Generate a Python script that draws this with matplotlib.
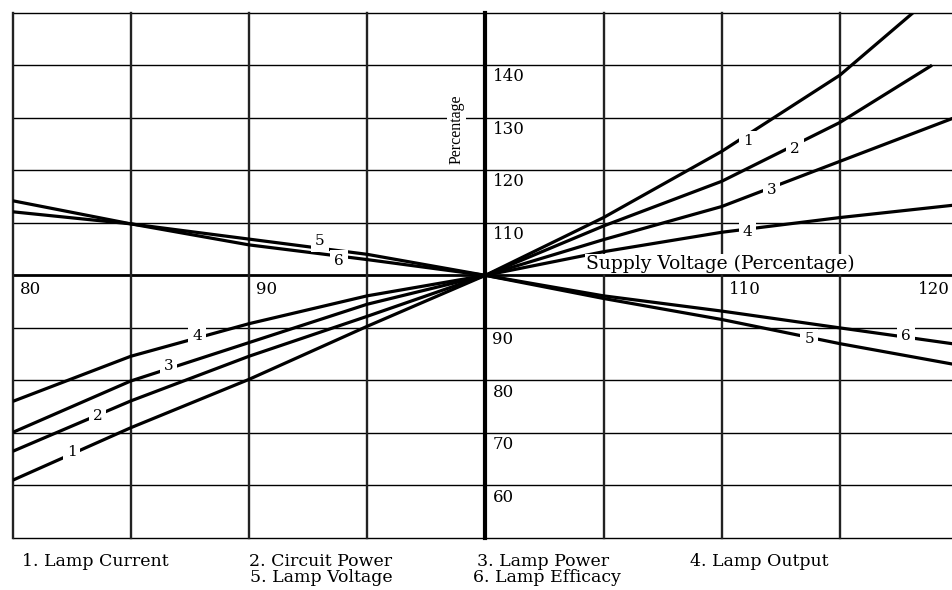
import matplotlib
matplotlib.use("Agg")
import matplotlib.pyplot as plt

volt = [80, 85, 90, 95, 100, 105, 110, 115]

# each curve: y values at volt, plus its end point on the right
lamp_current = [61.0, 71.0, 80.2, 90.3, 100, 111.0, 123.6, 138.1, 150.0]
circuit_power = [66.5, 76.1, 84.6, 92.2, 100, 109.4, 117.9, 129.1, 140.0]
lamp_power = [70.1, 79.9, 87.2, 94.5, 100, 106.8, 113.1, 121.7, 130.1]
lamp_output = [76.0, 84.6, 90.8, 96.1, 100, 104.5, 108.2, 111.0, 113.4]
lamp_voltage = [112.1, 109.8, 106.9, 104.0, 100, 95.6, 91.6, 87.0, 83.0]
lamp_efficacy = [114.2, 109.8, 105.8, 103.0, 100, 96.1, 93.2, 90.0, 86.9]
end_x = [118.1, 118.9, 119.9, 119.9, 119.9, 119.9]

curves = [lamp_current, circuit_power, lamp_power, lamp_output, lamp_voltage, lamp_efficacy]

# where the curve numbers sit on the curves (left side, right side)
label_left = [(82.5, 66.4), (83.6, 73.3), (86.6, 82.7), (87.8, 88.4), (93.0, 106.5), (93.8, 102.7)]
label_right = [(111.1, 125.5), (113.1, 124.0), (112.1, 116.2), (111.1, 108.3), (113.7, 87.8), (117.8, 88.4)]

captions = ["1. Lamp Current", "2. Circuit Power", "3. Lamp Power", "4. Lamp Output",
            "5. Lamp Voltage", "6. Lamp Efficacy"]

x_grid = [80, 85, 90, 95, 100, 105, 110, 115, 120]
y_grid = [50, 60, 70, 80, 90, 100, 110, 120, 130, 140, 150]
x_labels = [80, 90, 110, 120]
y_labels = [140, 130, 120, 110, 90, 80, 70, 60]

W, H = 953, 590
fig = plt.figure(figsize=(W / 100, H / 100), dpi=100)
ax = fig.add_axes([12.7 / W, 52 / H, (958 - 12.7) / W, (538 - 12.7) / H])
ax.set_xlim(80, 120)
ax.set_ylim(50, 150)
ax.axis("off")

# grid
for y in y_grid:
    ax.axhline(y, color="black", lw=2.0 if y == 100 else 1.0, zorder=1, clip_on=False)
for x in x_grid:
    if x == 100:
        ax.axvline(x, color="black", lw=3.0, zorder=3, clip_on=False)
    else:
        ax.axvline(x, color="#222222", lw=1.7, zorder=1, clip_on=False)

# curves
for i, ys in enumerate(curves):
    xs = volt + [end_x[i]]
    ax.plot(xs, ys, color="black", lw=2.3, zorder=2, solid_capstyle="butt",
            solid_joinstyle="round")
    for (lx, ly) in (label_left[i], label_right[i]):
        ax.text(lx, ly, str(i + 1), ha="center", va="center", fontsize=11,
                family="DejaVu Serif", zorder=4,
                bbox=dict(boxstyle="square,pad=0.25", fc="white", ec="none"))

# tick labels
num_font = dict(family="DejaVu Serif", fontsize=12, color="black")
for v in x_labels:
    xpos = v + 0.3 if v < 120 else 118.3
    ax.text(xpos, 99.0, str(v), ha="left", va="top", zorder=4, **num_font)
for v in y_labels:
    ax.text(100.3, v - 0.6, str(v), ha="left", va="top", zorder=4, **num_font)

# axis titles
ax.text(104.25, 100.5, "Supply Voltage (Percentage)", ha="left", va="bottom",
        family="DejaVu Serif", fontsize=13.5, zorder=4,
        bbox=dict(boxstyle="square,pad=0.05", fc="white", ec="none"))
ax.text(98.77, 127.8, "Percentage", rotation=90, ha="center", va="center",
        family="Liberation Serif", fontsize=11.5, zorder=4,
        bbox=dict(boxstyle="square,pad=0.1", fc="white", ec="none"))

# caption under the chart
cap_pos = [(22, 562), (249, 562), (477, 562), (690, 562), (250, 578), (473, 578)]
for text, (px, py) in zip(captions, cap_pos):
    fig.text(px / W, 1 - py / H, text, ha="left", va="center",
             family="DejaVu Serif", fontsize=12.5)

fig.savefig("out.png", dpi=100)
